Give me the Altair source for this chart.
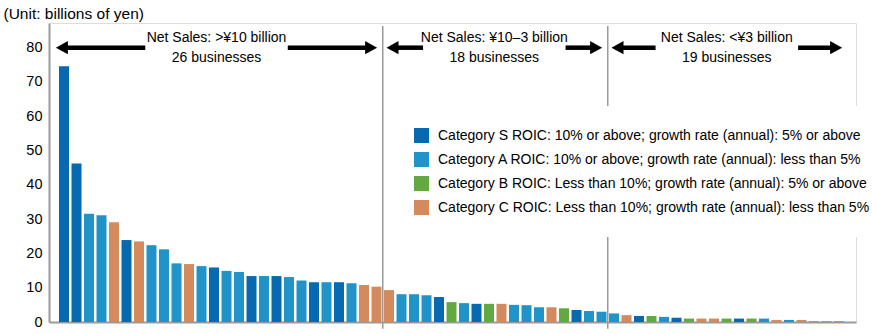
import altair as alt
import pandas as pd

# ---- data ----
values = [74.6, 46.2, 31.6, 31.1, 29.1, 23.9, 23.5, 22.4, 21.2, 17.1,
          16.9, 16.3, 15.9, 14.9, 14.6, 13.4, 13.4, 13.4, 13.1, 12.1,
          11.6, 11.6, 11.6, 11.3, 10.8, 10.3,
          9.3, 8.1, 8.1, 7.8, 7.3, 5.8, 5.5, 5.3, 5.3, 5.3,
          5.0, 4.9, 4.3, 4.3, 4.0, 3.5, 3.2, 3.0,
          2.5, 2.0, 1.75, 1.75, 1.5, 1.25, 1.0, 1.0, 1.0, 1.0,
          1.0, 1.0, 1.0, 0.6, 0.6, 0.6, 0.3, 0.3, 0.3]
cats = ["S", "S", "A", "A", "C", "S", "C", "A", "A", "A",
        "C", "A", "S", "A", "A", "S", "A", "S", "A", "A",
        "S", "A", "S", "A", "C", "C",
        "C", "A", "A", "A", "S", "B", "A", "S", "B", "C",
        "A", "A", "A", "C", "B", "S", "A", "A",
        "A", "C", "S", "B", "A", "S", "B", "C", "C", "B",
        "S", "B", "A", "C", "A", "C", "C", "C", "C"]
cat_codes = ["S", "A", "B", "C"]
cat_labels = [
    "Category S ROIC: 10% or above; growth rate (annual): 5% or above",
    "Category A ROIC: 10% or above; growth rate (annual): less than 5%",
    "Category B ROIC: Less than 10%; growth rate (annual): 5% or above",
    "Category C ROIC: Less than 10%; growth rate (annual): less than 5%",
]
cat_colors = ["#0769B0", "#2093C8", "#62A942", "#D38B5D"]
group_titles = ["Net Sales: >¥10 billion", "Net Sales: ¥10–3 billion", "Net Sales: <¥3 billion"]
group_counts = [26, 18, 19]
group_subs = ["26 businesses", "18 businesses", "19 businesses"]
y_ticks = [0, 10, 20, 30, 40, 50, 60, 70, 80]

FONT = "Liberation Sans"
BAR_W = 0.8          # bar width in index units
ARROW_Y = 80
HEAD = 0.8           # arrow head length in index units
GAP = 5.7            # half gap around the group label, index units

label_of = dict(zip(cat_codes, cat_labels))
bars = pd.DataFrame({
    "i": list(range(len(values))),
    "i2": [k + BAR_W for k in range(len(values))],
    "v": values,
    "cat": [label_of[c] for c in cats],
})

# group boundaries
bounds = [-0.55]
acc = 0
for n in group_counts:
    acc += n
    bounds.append(acc - 0.1)
bounds[-1] = acc + 0.1
dividers = pd.DataFrame({"x": bounds[1:-1], "y": [-2] * (len(bounds) - 2), "y2": [86.3] * (len(bounds) - 2)})

shafts, heads, texts = [], [], []
for k in range(len(group_counts)):
    lt = bounds[k] + 0.3
    rt = bounds[k + 1] - 0.45
    c = (lt + rt) / 2
    shafts.append({"x": lt + HEAD * 0.8, "x2": c - GAP})
    shafts.append({"x": c + GAP, "x2": rt - HEAD * 0.8})
    heads.append({"x": lt, "dir": "L"})
    heads.append({"x": rt, "dir": "R"})
    texts.append({"x": c, "t": group_titles[k], "line": 1})
    texts.append({"x": c, "t": group_subs[k], "line": 2})
shafts = pd.DataFrame(shafts)
shafts["y"] = ARROW_Y
heads = pd.DataFrame(heads)
heads["y"] = ARROW_Y
texts = pd.DataFrame(texts)
texts["y"] = ARROW_Y

xscale = alt.Scale(domain=[-0.8, 63.76], nice=False, zero=False)
yscale = alt.Scale(domain=[0, 87.2], nice=False, zero=False)

X_AXIS = alt.Axis(labels=False, ticks=False, title=None, grid=False,
                  domainColor="#9a9a9a", domainWidth=2)
Y_AXIS = alt.Axis(values=y_ticks, ticks=False, grid=False, domainColor="#9a9a9a",
                  domainWidth=2, labelPadding=7, labelFontSize=14.5, labelFont=FONT,
                  labelOverlap=False, labelColor="#000",
                  title="(Unit: billions of yen)", titleAngle=0,
                  titleAlign="left", titleBaseline="middle", titleX=-46, titleY=-10,
                  titleFontSize=15.5, titleFont=FONT, titleFontWeight="normal",
                  titleColor="#000")


def X(field):
    return alt.X(field, scale=xscale, axis=X_AXIS)


def Y(field):
    return alt.Y(field, scale=yscale, axis=Y_AXIS)


bar_chart = alt.Chart(bars).mark_rect().encode(
    x=X("i:Q"),
    x2="i2:Q",
    y=Y("v:Q"),
    y2=alt.datum(0),
    color=alt.Color("cat:N", scale=alt.Scale(domain=cat_labels, range=cat_colors),
                    legend=alt.Legend(title=None, orient="none", legendX=343, legendY=83,
                                      fillColor="white", padding=22, symbolType="square",
                                      symbolSize=225, symbolStrokeWidth=0, labelFontSize=14,
                                      labelFont=FONT, labelColor="#000", labelLimit=0,
                                      labelOffset=9, rowPadding=9)),
)

div_chart = alt.Chart(dividers).mark_rule(color="#9a9a9a", strokeWidth=1.5).encode(
    x=X("x:Q"), y=Y("y:Q"), y2="y2:Q")

shaft_chart = alt.Chart(shafts).mark_rule(color="#000", strokeWidth=4.5).encode(
    x=X("x:Q"), x2="x2:Q", y=Y("y:Q"))

left_head = alt.Chart(heads[heads["dir"] == "L"]).mark_point(
    shape="M0,0L2,-1.1L2,1.1Z", size=144, filled=True, fill="#000", opacity=1).encode(
    x=X("x:Q"), y=Y("y:Q"))
right_head = alt.Chart(heads[heads["dir"] == "R"]).mark_point(
    shape="M0,0L-2,-1.1L-2,1.1Z", size=144, filled=True, fill="#000", opacity=1).encode(
    x=X("x:Q"), y=Y("y:Q"))

line1 = alt.Chart(texts[texts["line"] == 1]).mark_text(
    font=FONT, fontSize=14, color="#000", align="center", baseline="middle", dy=-9.5).encode(
    x=X("x:Q"), y=Y("y:Q"), text="t:N")
line2 = alt.Chart(texts[texts["line"] == 2]).mark_text(
    font=FONT, fontSize=14, color="#000", align="center", baseline="middle", dy=10.5).encode(
    x=X("x:Q"), y=Y("y:Q"), text="t:N")

chart = alt.layer(bar_chart, div_chart, shaft_chart, left_head, right_head, line1, line2).properties(
    width=807, height=299,
    autosize=alt.AutoSizeParams(type="none"),
    padding={"left": 49, "top": 23, "right": 16, "bottom": 12},
).configure_view(strokeWidth=0).configure(background="white")

chart.save("out.html", embed_options={"renderer": "svg", "actions": False})
